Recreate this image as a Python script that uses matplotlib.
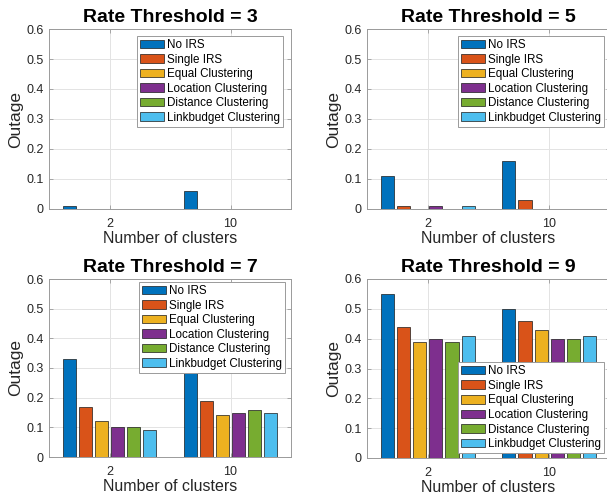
import matplotlib
matplotlib.use("Agg")
import matplotlib.pyplot as plt
import numpy as np

plt.rcParams['font.family'] = ['Liberation Sans', 'DejaVu Sans']

categories = ['2', '10']
series_names = ['No IRS', 'Single IRS', 'Equal Clustering', 'Location Clustering',
                'Distance Clustering', 'Linkbudget Clustering']
colors = ['#0072BD', '#D95319', '#EDB120', '#7E2F8E', '#77AC30', '#4DBEEE']

titles = ['Rate Threshold = 3', 'Rate Threshold = 5', 'Rate Threshold = 7', 'Rate Threshold = 9']

# values[series][category]
rt3 = [[0.01, 0.06], [0.0, 0.0], [0.0, 0.0], [0.0, 0.0], [0.0, 0.0], [0.0, 0.0]]
rt5 = [[0.11, 0.16], [0.01, 0.03], [0.0, 0.0], [0.01, 0.0], [0.0, 0.0], [0.01, 0.0]]
rt7 = [[0.33, 0.30], [0.17, 0.19], [0.12, 0.14], [0.10, 0.15], [0.10, 0.16], [0.09, 0.15]]
rt9 = [[0.55, 0.50], [0.44, 0.46], [0.39, 0.43], [0.40, 0.40], [0.39, 0.40], [0.41, 0.41]]
datasets = [rt3, rt5, rt7, rt9]

yticks = [0, 0.1, 0.2, 0.3, 0.4, 0.5, 0.6]
ytick_labels = ['0', '0.1', '0.2', '0.3', '0.4', '0.5', '0.6']

W, H = 607, 501
fig = plt.figure(figsize=(W / 100, H / 100), dpi=100)

# axes boxes in pixels: (left, top, right, bottom)
boxes = [(49, 29, 291, 209), (367, 29, 610, 209), (49, 279, 291, 457), (367, 279, 610, 458)]
# legend anchors (loc, x, y) in axes fraction
legs = [('upper right', 0.967, 0.961), ('upper right', 0.975, 0.961),
        ('upper right', 0.975, 0.983), ('lower right', 0.975, 0.028)]

axis_gray = '#262626'
n = len(series_names)
groupwidth = 0.8
slot = groupwidth / n
bw = slot * 0.82
xpos = np.arange(1, len(categories) + 1)

for k in range(4):
    l, t, r, b = boxes[k]
    ax = fig.add_axes([l / W, 1 - b / H, (r - l) / W, (b - t) / H])
    data = datasets[k]
    for i in range(n):
        xs = xpos - groupwidth / 2 + slot * (i + 0.5)
        ax.bar(xs, data[i], width=bw, color=colors[i], edgecolor='#1a1a1a',
               linewidth=0.5, label=series_names[i], zorder=3)
    ax.set_xlim(0.5, 2.5)
    ax.set_ylim(0, 0.6)
    ax.set_xticks(xpos)
    ax.set_xticklabels(categories)
    ax.set_yticks(yticks)
    ax.set_yticklabels(ytick_labels)
    ax.grid(True, color='#e3e3e3', linewidth=0.7, zorder=0)
    ax.set_axisbelow(True)
    for sp in ax.spines.values():
        sp.set_color('#9a9a9a')
        sp.set_linewidth(0.7)
    ax.tick_params(direction='in', length=3, width=0.6, color='#9a9a9a',
                   labelsize=9, labelcolor=axis_gray, pad=6.5, top=True, right=True)
    ax.tick_params(axis='y', pad=4)
    ax.set_title(titles[k], fontsize=14, fontweight='bold', pad=5, color='black')
    ax.set_xlabel('Number of clusters', fontsize=11.5, color=axis_gray, labelpad=1)
    ax.set_ylabel('Outage', fontsize=12.5, color=axis_gray, labelpad=2)
    loc, lx, ly = legs[k]
    lg = ax.legend(loc=loc, bbox_to_anchor=(lx, ly), fontsize=8.4, frameon=True,
                   fancybox=False, shadow=False, framealpha=1, borderaxespad=0,
                   handlelength=2.05, handleheight=0.75, handletextpad=0.25,
                   labelspacing=0.22, borderpad=0.25)
    lg.get_frame().set_edgecolor('#9a9a9a')
    lg.get_frame().set_linewidth(0.7)
    lg.set_zorder(5)

fig.savefig('out.png', dpi=100)
